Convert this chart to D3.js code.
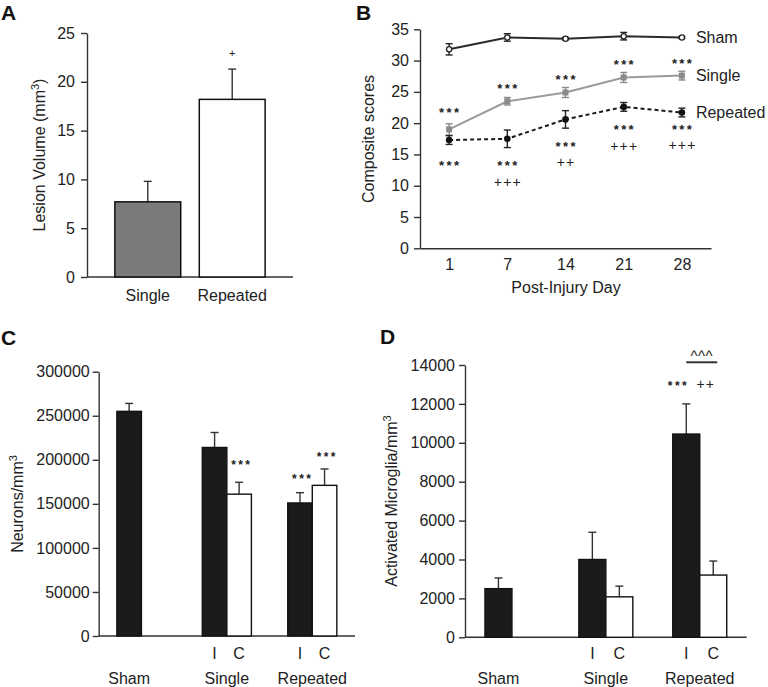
<!DOCTYPE html>
<html><head><meta charset="utf-8">
<script src="https://cdn.jsdelivr.net/npm/d3@7"></script>
<style>
body{margin:0;background:#fff;}
svg{display:block;font-family:"Liberation Sans",Arial,Helvetica,sans-serif;}
</style></head><body>
<svg id="chart" width="768" height="687"></svg>
<script>
// ---------- DATA ----------
// Panel A
const lesionGroups = ["Single", "Repeated"];
const lesionMean = [7.7, 18.2];
const lesionErr = [2.1, 3.1];
const lesionTicks = [0, 5, 10, 15, 20, 25];
const lesionSig = [{group: "Repeated", text: "+", y: 23.0}];

// Panel B
const days = ["1", "7", "14", "21", "28"];
const scoreTicks = [0, 5, 10, 15, 20, 25, 30, 35];
const shamScore = [31.8, 33.7, 33.5, 33.9, 33.7];
const shamErr = [0.9, 0.6, 0.2, 0.6, 0.15];
const singleScore = [19.0, 23.5, 24.9, 27.3, 27.6];
const singleErr = [0.9, 0.6, 0.8, 0.8, 0.7];
const repeatedScore = [17.3, 17.5, 20.6, 22.6, 21.7];
const repeatedErr = [0.7, 1.4, 1.4, 0.7, 0.7];
const starsAboveY = [22.1, 26.0, 27.5, 29.8, 30.0];
const starsBelowY = [13.6, 13.6, 16.7, 19.4, 19.5];
const plusBelowText = ["", "+++", "++", "+++", "+++"];
const plusBelowY = [null, 10.7, 13.8, 16.5, 16.6];

// Panel C
const groups = ["Sham", "Single", "Repeated"];
const sides = ["I", "C"];
const neuronTicks = [0, 50000, 100000, 150000, 200000, 250000, 300000];
const neuronsI = [255000, 214000, 151000];
const neuronsIErr = [9000, 17000, 11700];
const neuronsC = [null, 161000, 171000];
const neuronsCErr = [null, 13500, 18600];
const neuronSig = [
  {group: "Single", side: "C", text: "***", y: 197000},
  {group: "Repeated", side: "I", text: "***", y: 181500},
  {group: "Repeated", side: "C", text: "***", y: 206000}
];

// Panel D
const microTicks = [0, 2000, 4000, 6000, 8000, 10000, 12000, 14000];
const microI = [2500, 4000, 10450];
const microIErr = [550, 1400, 1550];
const microC = [null, 2080, 3200];
const microCErr = [null, 550, 720];
const microSig = {group: "Repeated", text: "***", plus: "++", y: 13060, caret: "^^^", caretY: 14520, barY: 14140};

// ---------- STYLE ----------
const INK = "#222", AX = "#333", FS = 16;
const svg = d3.select("#chart");

function styleAxis(a) {
  a.attr("font-family", null).attr("font-size", null);
  a.selectAll("text").attr("fill", INK).style("font-size", FS + "px");
  a.selectAll("line").attr("stroke", AX).attr("stroke-width", 1.4);
  a.select(".domain").attr("stroke", AX).attr("stroke-width", 1.4);
}
function yLabel(g, cx, cy, main, sup, tail) {
  const t = g.append("text").attr("transform", `translate(${cx},${cy}) rotate(-90)`)
    .attr("text-anchor", "middle").attr("dy", "0.35em").attr("fill", INK).style("font-size", FS + "px");
  t.append("tspan").text(main);
  if (sup) t.append("tspan").attr("dy", -6).style("font-size", "11px").text(sup);
  if (tail) t.append("tspan").attr("dy", 6).text(tail);
}
function panelLetter(x, y, s) {
  svg.append("text").attr("x", x).attr("y", y).attr("font-weight", "bold")
    .style("font-size", "21px").attr("fill", "#111").text(s);
}
function upErr(g, cx, y0, y1, half) {
  g.append("line").attr("x1", cx).attr("x2", cx).attr("y1", y0).attr("y2", y1).attr("stroke", AX).attr("stroke-width", 1.4);
  g.append("line").attr("x1", cx - half).attr("x2", cx + half).attr("y1", y1).attr("y2", y1).attr("stroke", AX).attr("stroke-width", 1.4);
}
function stars(g, x, yc, txt, fs) {
  g.append("text").attr("x", x + 1.2).attr("y", yc + fs * 0.56).attr("text-anchor", "middle")
    .attr("font-weight", "bold").style("font-size", fs + "px").attr("letter-spacing", "2.4px").attr("fill", INK).text(txt);
}
function plus(g, x, yc, txt, fs) {
  fs = fs || 14;
  g.append("text").attr("x", x + 0.6).attr("y", yc + fs * 0.36 + 0.5).attr("text-anchor", "middle")
    .style("font-size", fs + "px").attr("letter-spacing", "1.2px").attr("fill", INK).text(txt);
}

// ---------- PANEL A ----------
{
  const g = svg.append("g");
  const x = d3.scaleBand().domain(lesionGroups).range([87, 293]).paddingInner(0.22).paddingOuter(0.33);
  const y = d3.scaleLinear().domain([0, 25]).range([277, 33]);
  g.append("g").attr("transform", "translate(87,0)")
    .call(d3.axisLeft(y).tickValues(lesionTicks).tickSize(6).tickSizeOuter(0).tickPadding(6)).call(styleAxis);
  g.append("line").attr("x1", 87).attr("x2", 293).attr("y1", y(0)).attr("y2", y(0)).attr("stroke", AX).attr("stroke-width", 1.4);
  const fills = ["#7b7b7b", "#ffffff"];
  lesionGroups.forEach((d, i) => {
    upErr(g, x(d) + x.bandwidth() / 2, y(lesionMean[i]), y(lesionMean[i] + lesionErr[i]), 4);
  });
  g.selectAll("rect.bar").data(lesionGroups).join("rect").attr("class", "bar")
    .attr("x", d => x(d)).attr("width", x.bandwidth())
    .attr("y", (d, i) => y(lesionMean[i])).attr("height", (d, i) => y(0) - y(lesionMean[i]))
    .attr("fill", (d, i) => fills[i]).attr("stroke", "#111").attr("stroke-width", 1.5);
  g.selectAll("text.cat").data(lesionGroups).join("text").attr("class", "cat")
    .attr("x", d => x(d) + x.bandwidth() / 2).attr("y", 301).attr("text-anchor", "middle")
    .style("font-size", FS + "px").attr("fill", INK).text(d => d);
  lesionSig.forEach(s => plus(g, x(s.group) + x.bandwidth() / 2, y(s.y), s.text, 11));
  yLabel(g, 39, 155, "Lesion Volume (mm", "3", ")");
  panelLetter(1, 20, "A");
}

// ---------- PANEL B ----------
{
  const g = svg.append("g");
  const x = d3.scalePoint().domain(days).range([420, 711]).padding(0.5);
  const y = d3.scaleLinear().domain([0, 35]).range([248.3, 29.3]);
  g.append("g").attr("transform", "translate(420,0)")
    .call(d3.axisLeft(y).tickValues(scoreTicks).tickSize(6).tickSizeOuter(0).tickPadding(5)).call(styleAxis);
  g.append("g").attr("transform", `translate(0,${y(0)})`)
    .call(d3.axisBottom(x).tickSize(0).tickSizeOuter(0).tickPadding(10)).call(styleAxis);
  g.append("text").attr("x", 566).attr("y", 292.5).attr("text-anchor", "middle")
    .style("font-size", FS + "px").attr("fill", INK).text("Post-Injury Day");
  yLabel(g, 368, 139, "Composite scores");

  const series = [
    {name: "Sham", v: shamScore, e: shamErr, color: "#2a2a2a", dash: null, marker: "open"},
    {name: "Single", v: singleScore, e: singleErr, color: "#9a9a9a", dash: null, marker: "square"},
    {name: "Repeated", v: repeatedScore, e: repeatedErr, color: "#1a1a1a", dash: "4,3", marker: "dot"}
  ];
  const line = d3.line().x((d, i) => x(days[i])).y(d => y(d));
  series.forEach(s => {
    g.append("path").datum(s.v).attr("d", line).attr("fill", "none")
      .attr("stroke", s.color).attr("stroke-width", 2).attr("stroke-dasharray", s.dash);
    s.v.forEach((v, i) => {
      const cx = x(days[i]);
      const ec = s.marker === "square" ? "#8a8a8a" : "#222";
      g.append("line").attr("x1", cx).attr("x2", cx).attr("y1", y(v - s.e[i])).attr("y2", y(v + s.e[i])).attr("stroke", ec).attr("stroke-width", 1.4);
      [v - s.e[i], v + s.e[i]].forEach(t => g.append("line").attr("x1", cx - 3.5).attr("x2", cx + 3.5).attr("y1", y(t)).attr("y2", y(t)).attr("stroke", ec).attr("stroke-width", 1.4));
      if (s.marker === "open") g.append("circle").attr("cx", cx).attr("cy", y(v)).attr("r", 2.6).attr("fill", "#fff").attr("stroke", "#222").attr("stroke-width", 1.3);
      else if (s.marker === "dot") g.append("circle").attr("cx", cx).attr("cy", y(v)).attr("r", 3.3).attr("fill", "#111");
      else g.append("rect").attr("x", cx - 3).attr("y", y(v) - 3).attr("width", 6).attr("height", 6).attr("fill", "#8a8a8a");
    });
    g.append("text").attr("x", x(days[days.length - 1]) + 14).attr("y", y(s.v[s.v.length - 1])).attr("dy", "0.35em")
      .style("font-size", FS + "px").attr("fill", INK).text(s.name);
  });
  days.forEach((d, i) => {
    stars(g, x(d), y(starsAboveY[i]), "***", 13);
    stars(g, x(d), y(starsBelowY[i]), "***", 13);
    if (plusBelowText[i]) plus(g, x(d), y(plusBelowY[i]), plusBelowText[i], 14);
  });
  panelLetter(356, 20, "B");
}

// ---------- PANELS C & D ----------
function grouped(cfg) {
  const g = svg.append("g");
  const x = d3.scaleBand().domain(groups).range([cfg.x0, cfg.x1]);
  const xs = d3.scaleBand().domain(sides).range([0, x.bandwidth()]).paddingOuter(0.74);
  const y = d3.scaleLinear().domain(cfg.domain).range([cfg.yb, cfg.yt]);
  g.append("g").attr("transform", `translate(${cfg.x0},0)`)
    .call(d3.axisLeft(y).tickValues(cfg.ticks).tickSize(6).tickSizeOuter(0).tickPadding(cfg.pad).tickFormat(d3.format("d"))).call(styleAxis);
  g.append("line").attr("x1", cfg.x0).attr("x2", cfg.x1).attr("y1", y(0)).attr("y2", y(0)).attr("stroke", AX).attr("stroke-width", 1.4);
  const bars = [];
  groups.forEach((grp, i) => {
    if (cfg.I[i] != null) bars.push({grp, side: "I", v: cfg.I[i], e: cfg.IErr[i]});
    if (cfg.C[i] != null) bars.push({grp, side: "C", v: cfg.C[i], e: cfg.CErr[i]});
  });
  const cx = (grp, side) => x(grp) + xs(side) + xs.bandwidth() / 2;
  bars.forEach(b => upErr(g, cx(b.grp, b.side), y(b.v), y(b.v + b.e), 4));
  g.selectAll("rect.bar").data(bars).join("rect").attr("class", "bar")
    .attr("x", b => x(b.grp) + xs(b.side)).attr("width", xs.bandwidth())
    .attr("y", b => y(b.v)).attr("height", b => y(0) - y(b.v))
    .attr("fill", b => b.side === "I" ? "#1b1b1b" : "#ffffff").attr("stroke", "#111").attr("stroke-width", 1.4);
  groups.forEach((grp, i) => {
    const present = bars.filter(b => b.grp === grp);
    const mid = d3.mean(present, b => cx(b.grp, b.side));
    g.append("text").attr("x", mid).attr("y", 683.5).attr("text-anchor", "middle")
      .style("font-size", FS + "px").attr("fill", INK).text(grp);
    if (present.length > 1) present.forEach(b => g.append("text").attr("x", cx(b.grp, b.side)).attr("y", 659)
      .attr("text-anchor", "middle").style("font-size", FS + "px").attr("fill", INK).text(b.side));
  });
  return {g, x, xs, y, cx};
}

{
  const p = grouped({x0: 98.7, x1: 355, yb: 636, yt: 371.7, domain: [0, 300000], ticks: neuronTicks, pad: 3,
    I: neuronsI, IErr: neuronsIErr, C: neuronsC, CErr: neuronsCErr});
  neuronSig.forEach(s => stars(p.g, p.cx(s.group, s.side) + 1.5, p.y(s.y), s.text, 12));
  yLabel(p.g, 17, 504, "Neurons/mm", "3");
  panelLetter(1, 345, "C");
}
{
  const p = grouped({x0: 465, x1: 746.7, yb: 637.3, yt: 365, domain: [0, 14000], ticks: microTicks, pad: 4,
    I: microI, IErr: microIErr, C: microC, CErr: microCErr});
  const cI = p.cx(microSig.group, "I"), cC = p.cx(microSig.group, "C");
  const yc = p.y(microSig.y);
  stars(p.g, cI - 9, yc, microSig.text, 12);
  plus(p.g, cI + 19, yc, microSig.plus, 14);
  p.g.append("line").attr("x1", cI).attr("x2", cC + 4).attr("y1", p.y(microSig.barY)).attr("y2", p.y(microSig.barY))
    .attr("stroke", "#333").attr("stroke-width", 2);
  p.g.append("text").attr("x", (cI + cC + 4) / 2).attr("y", p.y(microSig.caretY) + 6).attr("text-anchor", "middle")
    .style("font-size", "15px").attr("letter-spacing", "0.5px").attr("fill", INK).text(microSig.caret);
  yLabel(p.g, 391, 501, "Activated Microglia/mm", "3");
  panelLetter(380, 344, "D");
}
</script>
</body></html>
